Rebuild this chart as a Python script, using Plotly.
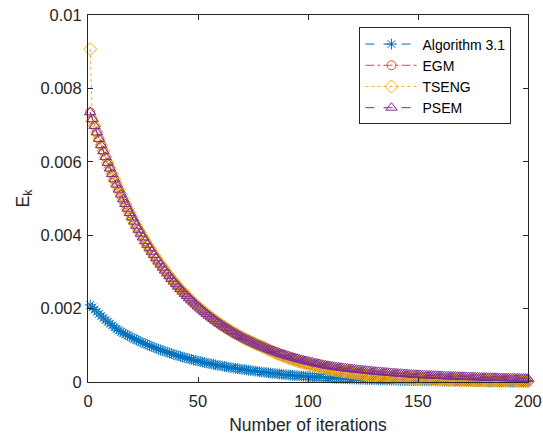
import plotly.graph_objects as go

# Values are in units of 1e-6 (E_k * 1e6), k = 1..200
SCALE = 1e-6

alg31_e6 = [
    2100, 2036, 1974, 1913, 1855, 1798, 1743, 1690, 1639, 1589, 1540, 1493, 1448,
    1404, 1369, 1336, 1303, 1270, 1239, 1208, 1179, 1150, 1121,
    1094, 1067, 1040, 1014, 989, 965, 941, 918, 895, 873,
    852, 831, 810, 790, 771, 752, 733, 715, 697, 680,
    663, 647, 631, 615, 600, 585, 571, 557, 543, 530,
    517, 504, 491, 479, 467, 456, 445, 434, 423, 412,
    402, 392, 383, 373, 364, 355, 346, 338, 329, 321,
    313, 305, 296, 288, 280, 272, 264, 257, 249, 242,
    236, 229, 223, 216, 210, 204, 199, 193, 188, 182,
    177, 172, 167, 163, 158, 154, 149, 145, 141, 137,
    133, 129, 126, 122, 119, 116, 112, 109, 106, 103,
    100, 97, 95, 92, 89, 87, 84, 82, 80, 78,
    75, 73, 71, 69, 67, 65, 63, 62, 60, 58,
    57, 55, 54, 52, 51, 49, 48, 46, 45, 44,
    43, 41, 40, 39, 38, 37, 36, 35, 34, 33,
    32, 31, 30, 29, 29, 28, 27, 26, 25, 25,
    24, 23, 23, 22, 22, 21, 20, 20, 19, 19,
    18, 18, 17, 17, 16, 16, 15, 15, 14, 14,
    14, 13, 13, 12, 12, 12, 11, 11, 11, 11,
    10, 10, 10, 9, 9, 9, 9,
]

egm_e6 = [
    7350, 7161, 6978, 6799, 6624, 6454, 6289, 6127, 5970, 5817,
    5667, 5522, 5380, 5242, 5108, 4976, 4849, 4724, 4603, 4485,
    4370, 4258, 4148, 4042, 3938, 3837, 3739, 3643, 3549, 3458,
    3369, 3283, 3199, 3116, 3036, 2959, 2883, 2809, 2737, 2666,
    2598, 2531, 2466, 2403, 2341, 2281, 2223, 2166, 2110, 2056,
    2003, 1952, 1902, 1853, 1805, 1759, 1714, 1670, 1627, 1585,
    1545, 1505, 1466, 1429, 1392, 1356, 1321, 1288, 1255, 1222,
    1191, 1160, 1131, 1102, 1073, 1046, 1019, 993, 967,
    942, 911, 882, 853, 826, 799, 773, 748, 723, 700,
    677, 655, 634, 613, 593, 574, 556, 538, 520, 503,
    487, 471, 456, 441, 427, 413, 399, 386, 374, 362,
    350, 339, 328, 317, 307, 297, 287, 278, 269, 260,
    252, 243, 236, 228, 220, 213, 206, 200, 193, 187,
    181, 175, 169, 164, 159, 153, 148, 144, 139, 134,
    130, 126, 122, 118, 114, 110, 107, 103, 100, 97,
    94, 90, 88, 85, 82, 79, 77, 74, 72, 69,
    67, 65, 63, 61, 59, 57, 55, 53, 52, 50,
    48, 47, 45, 44, 42, 41, 40, 38, 37, 36,
    35, 34, 32, 31, 30, 29, 28, 28, 27, 26,
    25, 24, 23, 23, 22, 21, 21, 20, 19, 19,
    18,
]

tseng_e6 = [
    9070, 7120, 6978, 6799, 6624, 6454, 6289, 6127, 5970, 5817,
    5667, 5522, 5380, 5242, 5108, 4976, 4849, 4724, 4603, 4485,
    4370, 4258, 4148, 4042, 3938, 3837, 3739, 3643, 3549, 3458,
    3369, 3283, 3199, 3116, 3036, 2959, 2883, 2809, 2737, 2666,
    2598, 2531, 2466, 2403, 2341, 2281, 2223, 2166, 2110, 2056,
    2003, 1952, 1902, 1853, 1805, 1759, 1714, 1670, 1627, 1585,
    1545, 1505, 1466, 1429, 1392, 1356, 1321, 1288, 1255, 1222,
    1191, 1160, 1131, 1102, 1073, 1046, 1019, 993, 967,
    942, 911, 882, 853, 826, 799, 773, 748, 723, 700,
    677, 655, 634, 613, 593, 574, 556, 538, 520, 503,
    487, 471, 456, 441, 427, 413, 399, 386, 374, 362,
    350, 339, 328, 317, 307, 297, 287, 278, 269, 260,
    252, 243, 236, 228, 220, 213, 206, 200, 193, 187,
    181, 175, 169, 164, 159, 153, 148, 144, 139, 134,
    130, 126, 122, 118, 114, 110, 107, 103, 100, 97,
    94, 90, 88, 85, 82, 79, 77, 74, 72, 69,
    67, 65, 63, 61, 59, 57, 55, 53, 52, 50,
    48, 47, 45, 44, 42, 41, 40, 38, 37, 36,
    35, 34, 32, 31, 30, 29, 28, 28, 27, 26,
    25, 24, 23, 23, 22, 21, 21, 20, 19, 19,
    18,
]

psem_e6 = [
    7350, 7161, 6978, 6799, 6624, 6454, 6289, 6127, 5970, 5817,
    5667, 5522, 5380, 5242, 5108, 4976, 4849, 4724, 4603, 4485,
    4370, 4258, 4148, 4042, 3938, 3837, 3739, 3643, 3549, 3458,
    3369, 3283, 3199, 3116, 3036, 2959, 2883, 2809, 2737, 2666,
    2598, 2531, 2466, 2403, 2341, 2281, 2223, 2166, 2110, 2056,
    2003, 1952, 1902, 1853, 1805, 1759, 1714, 1670, 1627, 1585,
    1545, 1505, 1466, 1429, 1392, 1356, 1321, 1288, 1255, 1222,
    1191, 1160, 1131, 1102, 1073, 1046, 1019, 993, 967, 942,
    918, 895, 872, 849, 828, 806, 786, 765, 746, 727,
    708, 690, 672, 655, 638, 622, 606, 590, 575, 560,
    546, 532, 518, 505, 492, 479, 467, 455, 443, 432,
    421, 413, 404, 396, 389, 381, 373, 366, 359, 352,
    345, 338, 331, 325, 318, 312, 306, 300, 294, 288,
    282, 277, 271, 266, 261, 255, 250, 245, 240, 236,
    231, 227, 222, 218, 213, 209, 205, 201, 197, 193,
    189, 186, 184, 181, 178, 176, 173, 170, 168, 165,
    163, 160, 158, 156, 153, 151, 149, 147, 144, 142,
    140, 138, 136, 134, 132, 130, 128, 126, 124, 122,
    121, 119, 117, 115, 114, 112, 110, 109, 107, 105,
    104, 102, 101, 99, 98, 96, 95, 93, 92, 91,
]

series_names = ["Algorithm 3.1", "EGM", "TSENG", "PSEM"]
x_tick_vals = [0, 50, 100, 150, 200]
y_tick_vals = [0, 0.002, 0.004, 0.006, 0.008, 0.01]
y_tick_text = ["0", "0.002", "0.004", "0.006", "0.008", "0.01"]

styles = [
    dict(color="#0072BD", dash="dash", symbol="asterisk-open", size=9),
    dict(color="#D95319", dash="dashdot", symbol="circle-open", size=9),
    dict(color="#EDB120", dash="dot", symbol="diamond-open", size=10),
    dict(color="#7E2F8E", dash="dash", symbol="triangle-up-open", size=10),
]

fig = go.Figure()
for name, vals, st in zip(series_names, [alg31_e6, egm_e6, tseng_e6, psem_e6], styles):
    iters = list(range(1, len(vals) + 1))
    fig.add_trace(go.Scatter(
        x=iters, y=[v * SCALE for v in vals], name=name,
        mode="lines+markers", cliponaxis=False,
        line=dict(color=st["color"], dash=st["dash"], width=1),
        marker=dict(symbol=st["symbol"], size=st["size"], color=st["color"],
                    line=dict(color=st["color"], width=1)),
    ))

font_family = "Liberation Sans, Arial, Helvetica, sans-serif"
axis_color = "#262626"

fig.update_layout(
    width=543, height=435,
    margin=dict(l=88, r=15, t=15, b=53, autoexpand=False),
    paper_bgcolor="white", plot_bgcolor="white",
    font=dict(family=font_family, size=15, color=axis_color),
    legend=dict(
        x=0.617, y=0.966, xanchor="left", yanchor="top",
        bgcolor="white", bordercolor=axis_color, borderwidth=1,
        font=dict(size=14, color="#000000"),
        itemwidth=52, tracegroupgap=0,
    ),
    showlegend=True,
)
fig.update_xaxes(
    range=[0, 200], tickvals=x_tick_vals,
    ticks="inside", ticklen=5, tickcolor=axis_color,
    showline=True, linecolor=axis_color, linewidth=1, mirror="ticks",
    showgrid=False, zeroline=False, automargin=False,
    ticklabeloverflow="allow", ticklabelstandoff=4,
    title=dict(text="Number of iterations", font=dict(size=17.5), standoff=13),
    tickfont=dict(size=16.5),
)
fig.update_yaxes(
    range=[0, 0.01], tickvals=y_tick_vals, ticktext=y_tick_text,
    ticks="inside", ticklen=5, tickcolor=axis_color,
    showline=True, linecolor=axis_color, linewidth=1, mirror="ticks",
    showgrid=False, zeroline=False, automargin=False,
    ticklabeloverflow="allow", ticklabelstandoff=2,
    title=dict(text="E<sub>k</sub>", font=dict(size=17.5), standoff=6),
    tickfont=dict(size=16.5),
)

fig.write_html(
    "out.html",
    config={"displayModeBar": False},
    post_script="document.body.style.margin='0';document.body.style.overflow='hidden';",
)
